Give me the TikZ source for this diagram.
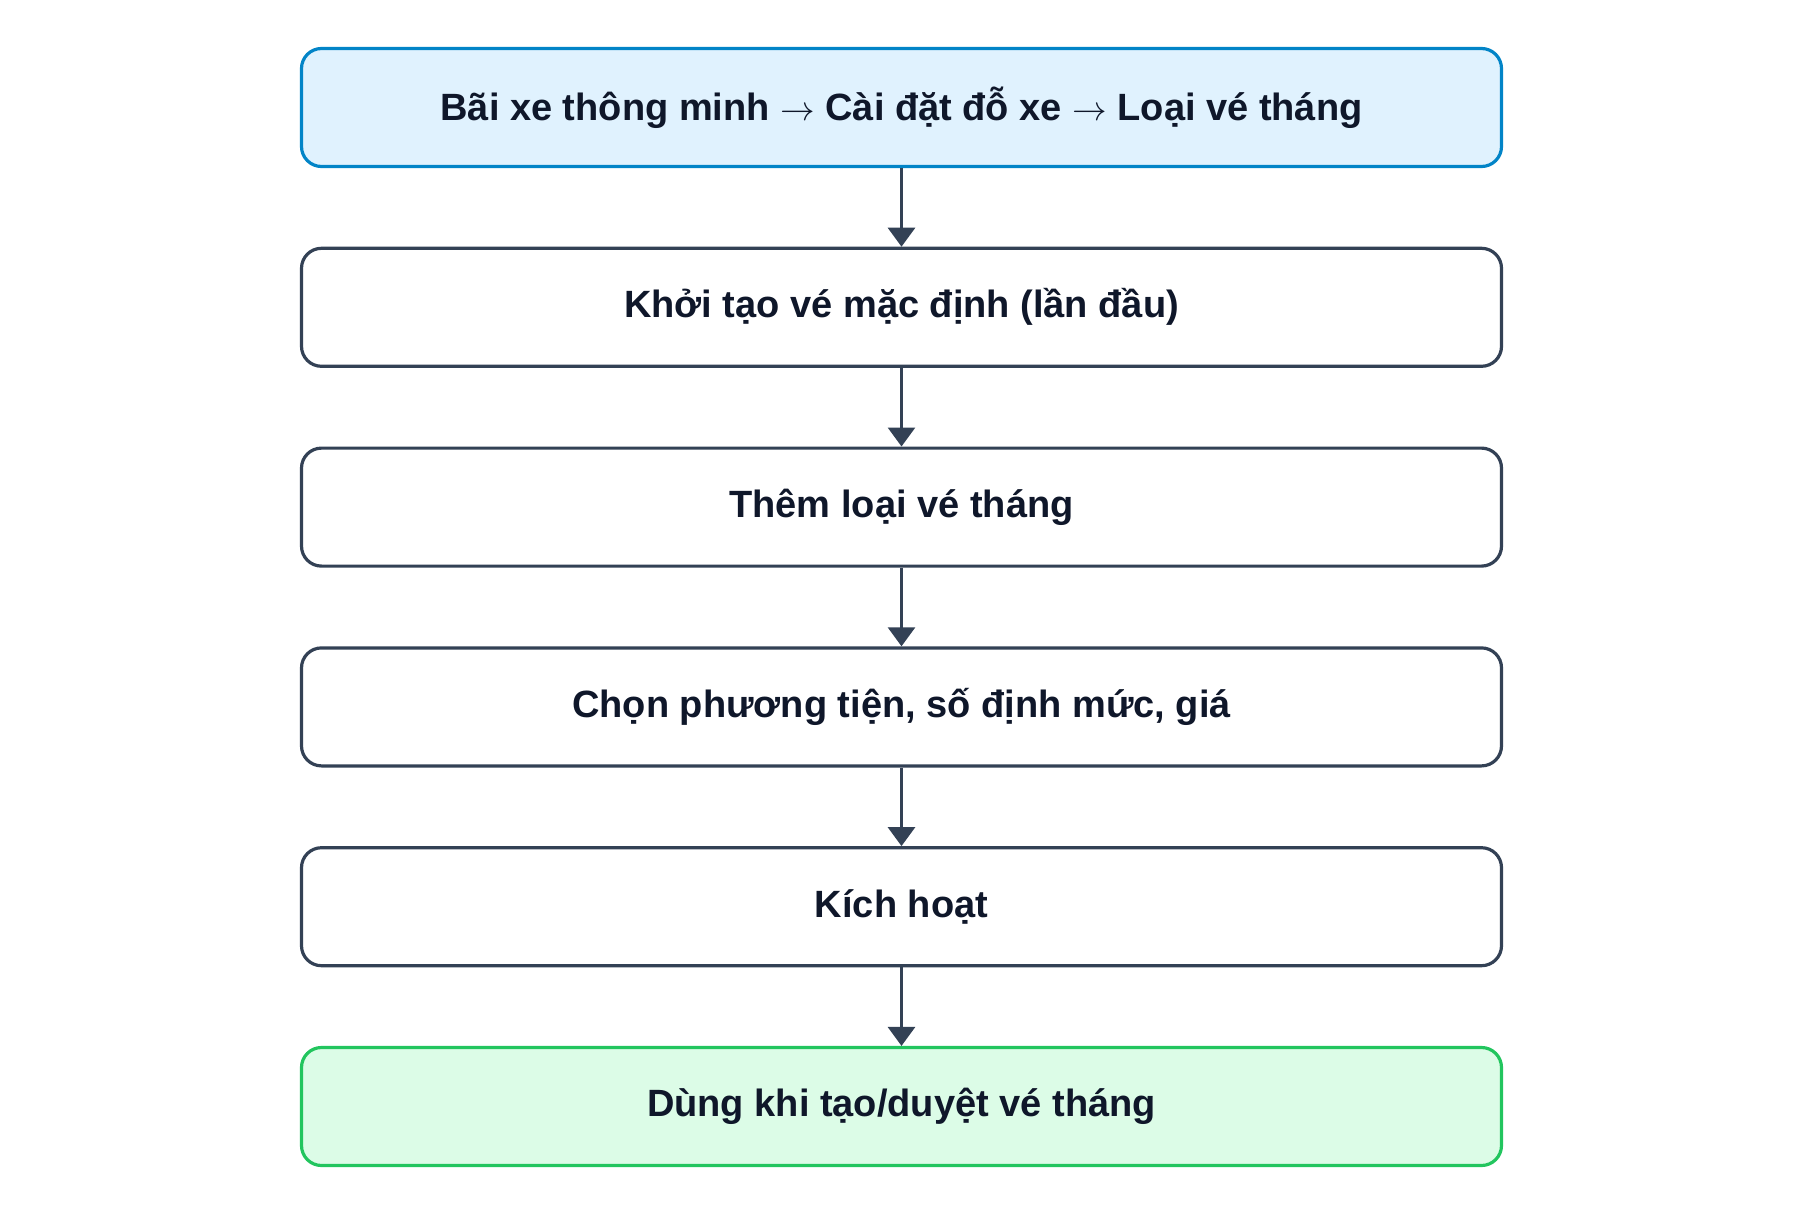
\documentclass[tikz,border=0pt]{standalone}
\usepackage{fontspec}
\setmainfont{Liberation Sans}
\usepackage{tikz}
\usetikzlibrary{arrows.meta,positioning}

\definecolor{slateline}{HTML}{334155}
\definecolor{slatetext}{HTML}{0F172A}
\definecolor{skyline}{HTML}{0284C7}
\definecolor{skyfill}{HTML}{E0F2FE}
\definecolor{greenline}{HTML}{22C55E}
\definecolor{greenfill}{HTML}{DCFCE7}

\begin{document}
\begin{tikzpicture}[
    box/.style={draw=slateline, fill=white, line width=1.6pt, rounded corners=10pt,
        minimum width=600pt, minimum height=59pt, text=slatetext,
        font=\fontsize{19}{23}\selectfont\bfseries},
    startbox/.style={box, draw=skyline, fill=skyfill},
    endbox/.style={box, draw=greenline, fill=greenfill},
    flow/.style={-{Triangle[width=13.5pt,length=9.5pt]}, draw=slateline, line width=1.5pt},
    node distance=39.3pt
]
    % Canvas
    \useasboundingbox (0,0) rectangle (900pt,-608pt);

    % Boxes
    \node[startbox] (menu) at (450.75pt,-53.75pt) {Bãi xe thông minh $\rightarrow$ Cài đặt đỗ xe $\rightarrow$ Loại vé tháng};
    \node[box, below=of menu] (init) {Khởi tạo vé mặc định (lần đầu)};
    \node[box, below=of init] (add) {Thêm loại vé tháng};
    \node[box, below=of add] (choose) {Chọn phương tiện, số định mức, giá};
    \node[box, below=of choose] (activate) {Kích hoạt};
    \node[endbox, below=of activate] (use) {Dùng khi tạo/duyệt vé tháng};

    % Arrows
    \draw[flow] (menu) -- (init);
    \draw[flow] (init) -- (add);
    \draw[flow] (add) -- (choose);
    \draw[flow] (choose) -- (activate);
    \draw[flow] (activate) -- (use);
\end{tikzpicture}
\end{document}
